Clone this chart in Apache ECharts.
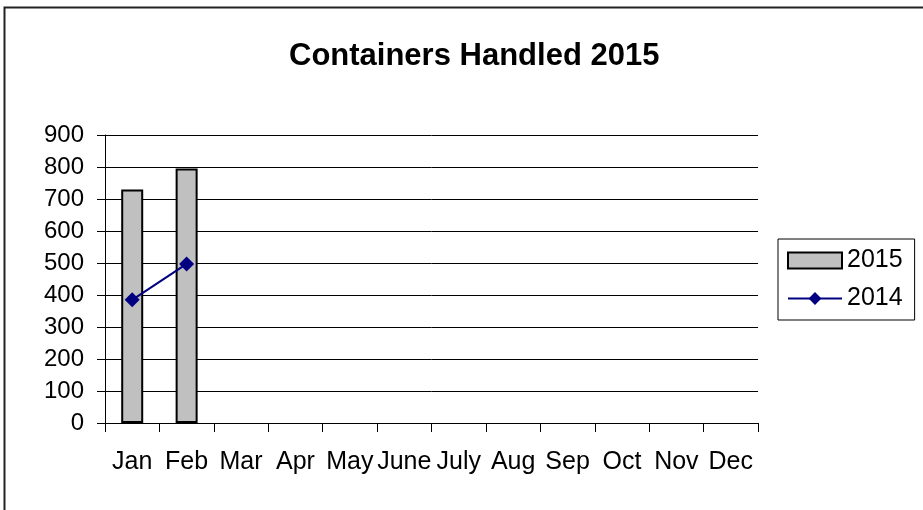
<!doctype html>
<html lang="en">
  <head>
    <meta charset="UTF-8" />
    <title>Containers Handled 2015</title>
    <script src="https://cdn.jsdelivr.net/npm/echarts@6/dist/echarts.min.js"></script>
    <style type="text/css">
      * {
        margin: 0;
        padding: 0;
      }
      html,
      body,
      #chart {
        width: 923px;
        height: 510px;
        overflow: hidden;
        background: #fff;
      }
    </style>
  </head>
  <body>
    <div id="chart"></div>
  </body>
  <script>
    const months = ['Jan', 'Feb', 'Mar', 'Apr', 'May', 'June', 'July', 'Aug', 'Sep', 'Oct', 'Nov', 'Dec'];
    const containers2015 = [730, 795];
    const containers2014 = [385, 497];
    const yTicks = { min: 0, max: 900, interval: 100 };

    const font = 'Liberation Sans, Arial, sans-serif';
    const option = {
      animation: false,
      backgroundColor: '#fff',
      textStyle: { fontFamily: font, color: '#000' },
      graphic: [
        {
          type: 'rect',
          shape: { x: 4.5, y: 7.5, width: 1000, height: 1000 },
          style: { fill: 'none', stroke: '#222', lineWidth: 2 },
          silent: true,
        },
      ],
      title: {
        text: 'Containers Handled 2015',
        left: 289,
        top: 41,
        padding: 0,
        textStyle: { fontFamily: font, fontSize: 31, fontWeight: 'bold', color: '#000' },
      },
      legend: {
        orient: 'vertical',
        left: 778,
        top: 239,
        padding: [9, 12, 9, 9],
        borderColor: '#000',
        borderWidth: 1,
        itemWidth: 54,
        itemHeight: 16,
        itemGap: 13,
        textStyle: { fontFamily: font, fontSize: 25, color: '#000' },
        data: [{ name: '2015', icon: 'rect' }, { name: '2014' }],
      },
      grid: { left: 105, right: 165, top: 135, bottom: 87, containLabel: false },
      xAxis: {
        type: 'category',
        data: months,
        boundaryGap: true,
        axisLine: { lineStyle: { color: '#000', width: 1 } },
        axisTick: { show: true, length: 9, interval: 0, lineStyle: { color: '#000' } },
        axisLabel: { interval: 0, margin: 27, fontSize: 25, color: '#000', fontFamily: font },
        splitLine: { show: false },
      },
      yAxis: {
        type: 'value',
        min: yTicks.min,
        max: yTicks.max,
        interval: yTicks.interval,
        axisLine: { show: true, lineStyle: { color: '#000', width: 1 } },
        axisTick: { show: true, length: 8, lineStyle: { color: '#000' } },
        axisLabel: { margin: 21, fontSize: 24, color: '#000', fontFamily: font },
        splitLine: { show: true, lineStyle: { color: '#000', width: 1 } },
      },
      series: [
        {
          name: '2015',
          type: 'bar',
          data: containers2015,
          barWidth: 22,
          itemStyle: { color: '#c0c0c0', borderColor: '#000', borderWidth: 2 },
        },
        {
          name: '2014',
          type: 'line',
          data: containers2014,
          symbol: 'diamond',
          symbolSize: 15,
          lineStyle: { color: '#000080', width: 2 },
          itemStyle: { color: '#000080' },
        },
      ],
    };
    const chart = echarts.init(document.getElementById('chart'), null, { renderer: 'canvas' });
    chart.setOption(option);
  </script>
</html>
